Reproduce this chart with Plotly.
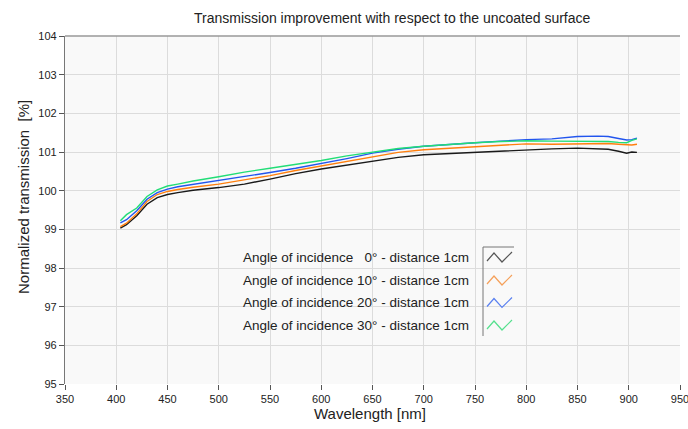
import plotly.graph_objects as go

wavelength_nm = [404, 410, 420, 430, 440, 450, 460, 475, 500, 525, 550, 575, 600, 625, 650,
                 675, 700, 725, 750, 775, 800, 825, 850, 870, 880, 890, 898, 903, 908]

t_0deg = [99.03, 99.12, 99.35, 99.65, 99.82, 99.90, 99.95, 100.01, 100.08, 100.17, 100.30, 100.44,
          100.56, 100.66, 100.77, 100.86, 100.93, 100.96, 100.99, 101.03, 101.06, 101.08, 101.10,
          101.09, 101.07, 101.02, 100.97, 101.00, 100.99]
t_10deg = [99.07, 99.16, 99.40, 99.72, 99.90, 99.98, 100.03, 100.09, 100.17, 100.28, 100.39, 100.52,
           100.64, 100.76, 100.88, 100.99, 101.06, 101.10, 101.13, 101.17, 101.21, 101.20, 101.21,
           101.23, 101.22, 101.20, 101.19, 101.18, 101.20]
t_20deg = [99.17, 99.25, 99.48, 99.78, 99.95, 100.04, 100.10, 100.16, 100.26, 100.37, 100.47, 100.58,
           100.70, 100.83, 100.97, 101.07, 101.15, 101.20, 101.24, 101.28, 101.32, 101.34, 101.40,
           101.41, 101.40, 101.35, 101.31, 101.32, 101.36]
t_30deg = [99.22, 99.38, 99.55, 99.85, 100.02, 100.12, 100.17, 100.25, 100.36, 100.48, 100.58, 100.68,
           100.78, 100.90, 101.00, 101.09, 101.15, 101.20, 101.24, 101.27, 101.29, 101.28, 101.28,
           101.28, 101.27, 101.25, 101.24, 101.30, 101.34]

series_names = ["Angle of incidence \u20070° - distance 1cm",
                "Angle of incidence 10° - distance 1cm",
                "Angle of incidence 20° - distance 1cm",
                "Angle of incidence 30° - distance 1cm"]
series_values = [t_0deg, t_10deg, t_20deg, t_30deg]
line_colors = ["#1a1a1a", "#ff7f0e", "#2255ee", "#22dd77"]
glyph_colors = ["#555555", "#f5a05a", "#5a80f0", "#55e08e"]

x_ticks = list(range(350, 951, 50))
y_ticks = list(range(95, 105))

W, H = 688, 429
L, R, T, B = 65, 8, 36, 45
pw, ph = W - L - R, H - T - B

def px(x):
    return (x - L) / pw

def py(y):
    return (H - B - y) / ph

fig = go.Figure()
for name, vals, col in zip(series_names, series_values, line_colors):
    fig.add_trace(go.Scatter(x=wavelength_nm, y=vals, mode="lines", name=name,
                             line=dict(color=col, width=1.4), showlegend=False))

font = "Liberation Sans, Arial, sans-serif"
annotations = []
shapes = []
row_y = [257, 280, 302.5, 325]
for name, yy, gc in zip(series_names, row_y, glyph_colors):
    annotations.append(dict(xref="paper", yref="paper", x=px(471), y=py(yy), xanchor="right",
                            yanchor="middle", text=name, showarrow=False,
                            font=dict(family=font, size=13.5, color="#222222")))
    pts = [(487, yy + 4), (494, yy - 4), (502, yy + 5), (512, yy - 5)]
    path = "M " + " L ".join(f"{px(a):.5f},{py(b):.5f}" for a, b in pts)
    shapes.append(dict(type="path", xref="paper", yref="paper", path=path,
                       line=dict(color=gc, width=1.2)))
# legend frame (left and top edges)
shapes.append(dict(type="line", xref="paper", yref="paper", x0=px(483), x1=px(483),
                   y0=py(247), y1=py(336), line=dict(color="#777777", width=1)))
shapes.append(dict(type="line", xref="paper", yref="paper", x0=px(483), x1=px(514),
                   y0=py(247), y1=py(247), line=dict(color="#777777", width=1)))
# top border of plot
shapes.append(dict(type="line", xref="paper", yref="paper", x0=0, x1=1, y0=1, y1=1,
                   line=dict(color="#999999", width=1.5)))

# axis titles
annotations.append(dict(xref="paper", yref="paper", x=px(370), y=py(413), xanchor="center",
                        yanchor="middle", text="Wavelength [nm]", showarrow=False,
                        font=dict(family=font, size=15, color="#222222")))
annotations.append(dict(xref="paper", yref="paper", x=px(23), y=py(197), xanchor="center",
                        yanchor="middle", text="Normalized transmission \u00a0[%]", showarrow=False,
                        textangle=-90, font=dict(family=font, size=15, color="#222222")))

fig.update_layout(
    width=W, height=H,
    margin=dict(l=L, r=R, t=T, b=B, autoexpand=False),
    paper_bgcolor="white",
    plot_bgcolor="#f9f9f9",
    title=dict(text="Transmission improvement with respect to the uncoated surface",
               x=0.57, xref="container", xanchor="center",
               y=1 - 18 / H, yref="container", yanchor="middle",
               font=dict(family=font, size=14, color="#222222")),
    xaxis=dict(range=[350, 950], tickvals=x_ticks, ticktext=[str(v) for v in x_ticks],
               showgrid=True, gridcolor="#dcdcdc", gridwidth=1, zeroline=False,
               showline=False, ticks="outside", ticklen=5, tickcolor="#555555",
               automargin=False, ticklabeloverflow="allow",
               tickfont=dict(family=font, size=11, color="#222222")),
    yaxis=dict(range=[95, 104], tickvals=y_ticks, ticktext=[str(v) for v in y_ticks],
               showgrid=True, gridcolor="#dcdcdc", gridwidth=1, zeroline=False,
               showline=True, linecolor="#777777", linewidth=1.2,
               ticks="outside", ticklen=5, tickcolor="#555555", automargin=False,
               tickfont=dict(family=font, size=11, color="#222222")),
    annotations=annotations,
    shapes=shapes,
    showlegend=False,
)

fig.write_html("out.html", config={"displayModeBar": False},
               post_script="document.body.style.margin='0px';document.body.style.overflow='hidden';")
